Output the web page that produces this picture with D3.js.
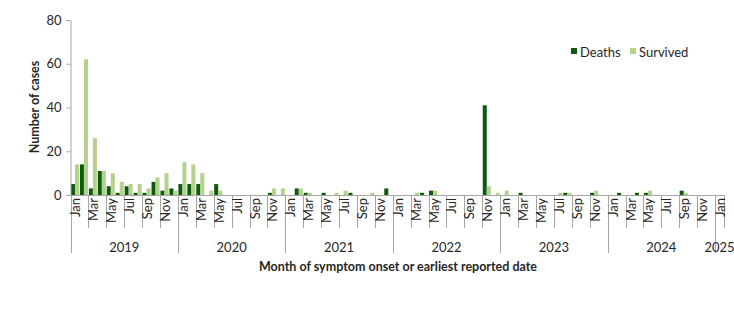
<!DOCTYPE html>
<html><head><meta charset="utf-8">
<script src="https://cdn.jsdelivr.net/npm/d3@7"></script>
<style>body{margin:0;background:#fff}svg{display:block;font-family:Lato,"Open Sans",sans-serif}</style>
</head><body><svg id="c" width="734" height="332"></svg>
<script>
const years = ["2019","2020","2021","2022","2023","2024","2025"];
const monthNames = ["Jan","Feb","Mar","Apr","May","Jun","Jul","Aug","Sep","Oct","Nov","Dec"];
const deaths = [
 5,14,3,11,4,1,4,1,1,6,2,3,
 5,5,5,0,5,0,0,0,0,0,1,0,
 0,3,1,0,1,0,0,1,0,0,0,3,
 0,0,0,1,2,0,0,0,0,0,41,0,
 0,0,1,0,0,0,0,1,0,0,1,0,
 0,1,0,1,1,0,0,0,2,0,0,0,
 0];
const survived = [
 14,62,26,11,10,6,5,5,3,8,10,2,
 15,14,10,2,2,0,0,0,0,0,3,3,
 0,3,1,0,0,1,2,0,0,1,0,0,
 0,0,1,0,2,0,0,0,0,0,4,1,
 2,0,0,0,0,0,1,1,0,0,2,0,
 0,0,0,0,2,0,0,0,1,0,0,0,
 0];
const yTicks = [0,20,40,60,80];
const seriesNames = ["Deaths","Survived"];
const colors = ["#0b5a0f","#b4d28c"];

const months = deaths.map((d,i)=>({i, year: years[Math.floor(i/12)], month: monthNames[i%12], vals:[d, survived[i]]}));

const svg = d3.select("#c");
const L = 70.5, R = 724, T = 20, B = 195;
const x = d3.scaleBand().domain(months.map(d=>d.i)).range([L,R]).paddingInner(0.1).paddingOuter(0.05);
const x1 = d3.scaleBand().domain([0,1]).range([0,x.bandwidth()]);
const y = d3.scaleLinear().domain([0,80]).range([B,T]);
const grey = "#a6a6a6";
const txt = "#262626";

// bars
const g = svg.append("g");
months.forEach(m=>{
  m.vals.forEach((v,k)=>{
    if(v<=0) return;
    g.append("rect").attr("x", x(m.i)+x1(k)).attr("width", x1.bandwidth())
     .attr("y", y(v)).attr("height", y(0)-y(v)).attr("fill", colors[k]);
  });
});

// y axis
const ya = svg.append("g").attr("transform",`translate(${L},0)`)
  .call(d3.axisLeft(y).tickValues(yTicks).tickSize(4).tickPadding(5));
ya.select(".domain").attr("stroke",grey);
ya.selectAll(".tick line").attr("stroke",grey);
ya.selectAll("text").attr("font-size",13).attr("fill",txt).attr("font-family","Lato");

// x axis baseline
svg.append("line").attr("x1",L).attr("x2",R).attr("y1",B+0.5).attr("y2",B+0.5).attr("stroke",grey);

// category edges
const edge = i => L + (R-L)*i/months.length;
for(let i=0;i<=months.length;i+=2){
  const xx = Math.round(edge(i))+0.5;
  svg.append("line").attr("x1",xx).attr("x2",xx).attr("y1",B).attr("y2", (i%12===0)?253:228).attr("stroke",grey);
}
{
  const xx = Math.round(edge(months.length))+0.5;
  svg.append("line").attr("x1",xx).attr("x2",xx).attr("y1",B).attr("y2",228).attr("stroke",grey);
}

// month labels
months.forEach(m=>{
  if(m.i%2!==0) return;
  const cx = (edge(m.i)+edge(m.i+1))/2;
  svg.append("text").attr("transform",`translate(${cx+0.5},198) rotate(-90)`)
    .attr("text-anchor","end").attr("dominant-baseline","central")
    .attr("font-size",13).attr("fill",txt).text(m.month);
});

// year labels
years.forEach((yr,k)=>{
  const s = k*12, e = Math.min(k*12+12, months.length);
  const cx = (edge(s)+edge(e))/2;
  svg.append("text").attr("x",cx).attr("y",247).attr("text-anchor","middle")
    .attr("dominant-baseline","central").attr("font-size",13).attr("fill",txt).text(yr);
});

// axis titles
svg.append("text").attr("x",398).attr("y",266).attr("text-anchor","middle").attr("dominant-baseline","central")
  .attr("font-size",12.5).attr("font-weight","bold").attr("fill",txt).text("Month of symptom onset or earliest reported date");
svg.append("text").attr("transform","translate(34,107) rotate(-90)").attr("text-anchor","middle").attr("dominant-baseline","central")
  .attr("font-size",12.5).attr("font-weight","bold").attr("fill",txt).text("Number of cases");

// legend
const legX = [571, 630];
seriesNames.forEach((n,k)=>{
  svg.append("rect").attr("x",legX[k]).attr("y",48).attr("width",6).attr("height",6).attr("fill",colors[k]);
  svg.append("text").attr("x",legX[k]+9).attr("y",52).attr("dominant-baseline","central")
    .attr("font-size",13).attr("fill",txt).text(n);
});
</script></body></html>
